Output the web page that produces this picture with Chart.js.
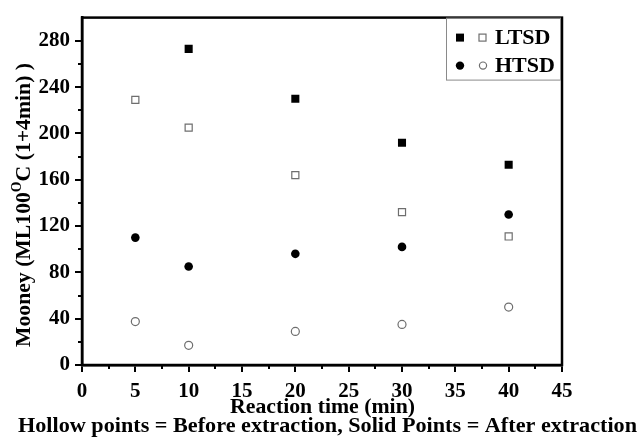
<!DOCTYPE html>
<html>
<head>
<meta charset="utf-8">
<script src="https://cdn.jsdelivr.net/npm/chart.js@4"></script>
<style>
  html, body { margin: 0; padding: 0; background: #fff; }
  #wrap { width: 641px; height: 438px; }
</style>
</head>
<body>
<div id="wrap"><canvas id="c" width="641" height="438"></canvas></div>
<script>
// ---- data ----
const reactionTimes = [5, 10, 20, 30, 40];
const ltsdAfter  = [null, 273, 230, 192, 173];   // solid squares
const ltsdBefore = [229, 205, 164, 132, 111];    // hollow squares
const htsdAfter  = [110, 85, 96, 102, 130];      // solid circles
const htsdBefore = [37.5, 17, 29, 35, 50];       // hollow circles
const xTickValues = [0, 5, 10, 15, 20, 25, 30, 35, 40, 45];
const yTickValues = [0, 40, 80, 120, 160, 200, 240, 280];
const xMinorValues = [2.5, 7.5, 12.5, 17.5, 22.5, 27.5, 32.5, 37.5, 42.5];
const yMinorValues = [20, 60, 100, 140, 180, 220, 260];
const legendLabels = ['LTSD', 'HTSD'];
const xTitle = 'Reaction time (min)';
const yTitleParts = ['Mooney (ML100', 'O', 'C (1+4min) )'];
const footnote = 'Hollow points = Before extraction, Solid Points = After extraction';

function toPoints(ys) {
  const out = [];
  reactionTimes.forEach((x, i) => { if (ys[i] !== null) out.push({ x: x, y: ys[i] }); });
  return out;
}

const SERIF = '"Liberation Serif", "Times New Roman", serif';
const HOLLOW = '#6e6e6e';

const decorPlugin = {
  id: 'decor',
  afterDraw(chart) {
    const ctx = chart.ctx;
    const a = chart.chartArea;
    const xs = chart.scales.x, ys = chart.scales.y;
    ctx.save();
    // minor ticks
    ctx.strokeStyle = '#000';
    ctx.lineWidth = 2;
    ctx.beginPath();
    xMinorValues.forEach(v => {
      const px = Math.round(xs.getPixelForValue(v));
      ctx.moveTo(px, a.bottom); ctx.lineTo(px, a.bottom + 4);
    });
    yMinorValues.forEach(v => {
      const py = Math.round(ys.getPixelForValue(v));
      ctx.moveTo(a.left, py); ctx.lineTo(a.left - 4, py);
    });
    ctx.stroke();
    // frame
    ctx.lineWidth = 2.5;
    ctx.strokeRect(a.left, a.top, a.right - a.left, a.bottom - a.top);

    // legend box
    const lx = a.right - 116, ly = a.top, lw = 114, lh = 62;
    ctx.fillStyle = '#fff';
    ctx.fillRect(lx, ly + 1, lw, lh - 1);
    ctx.strokeStyle = '#8a8a8a';
    ctx.lineWidth = 1;
    ctx.strokeRect(lx + 0.5, ly + 0.5, lw, lh);
    ctx.fillStyle = '#000';
    ctx.font = 'bold 22px ' + SERIF;
    ctx.textBaseline = 'middle';
    ctx.textAlign = 'left';
    const rows = [ly + 20, ly + 48];
    // row 1: squares
    ctx.fillRect(lx + 10, rows[0] - 4, 8, 8);
    ctx.strokeStyle = HOLLOW; ctx.lineWidth = 1.2;
    ctx.fillStyle = '#fff';
    ctx.fillRect(lx + 33, rows[0] - 3.5, 7, 7);
    ctx.strokeRect(lx + 33, rows[0] - 3.5, 7, 7);
    ctx.fillStyle = '#000';
    ctx.fillText(legendLabels[0], lx + 49, rows[0] + 1);
    // row 2: circles
    ctx.beginPath(); ctx.arc(lx + 14, rows[1], 4.2, 0, Math.PI * 2); ctx.fill();
    ctx.beginPath(); ctx.arc(lx + 37, rows[1], 3.6, 0, Math.PI * 2);
    ctx.fillStyle = '#fff'; ctx.fill(); ctx.stroke();
    ctx.fillStyle = '#000';
    ctx.fillText(legendLabels[1], lx + 49, rows[1] + 1);

    // x title
    function fitText(text, cx, cy, width, size) {
      ctx.font = 'bold ' + size + 'px ' + SERIF;
      const w = ctx.measureText(text).width;
      ctx.save();
      ctx.translate(cx, cy);
      ctx.scale(width / w, 1);
      ctx.textAlign = 'center';
      ctx.textBaseline = 'middle';
      ctx.fillText(text, 0, 0);
      ctx.restore();
    }
    fitText(xTitle, 322.5, 408, 185, 21);
    fitText(footnote, 327.5, 427, 619, 21);

    // y title (rotated) with superscript
    ctx.save();
    ctx.translate(24, 205);
    ctx.rotate(-Math.PI / 2);
    const big = 'bold 22px ' + SERIF, small = 'bold 14px ' + SERIF;
    ctx.font = big; const w1 = ctx.measureText(yTitleParts[0]).width;
    ctx.font = small; const w2 = ctx.measureText(yTitleParts[1]).width;
    ctx.font = big; const w3 = ctx.measureText(yTitleParts[2]).width;
    const total = w1 + w2 + w3;
    const sc = 284 / total;
    ctx.scale(sc, 1);
    let x0 = -total / 2;
    ctx.textAlign = 'left'; ctx.textBaseline = 'middle';
    ctx.font = big; ctx.fillText(yTitleParts[0], x0, 0);
    ctx.font = small; ctx.fillText(yTitleParts[1], x0 + w1, -7);
    ctx.font = big; ctx.fillText(yTitleParts[2], x0 + w1 + w2, 0);
    ctx.restore();

    ctx.restore();
  }
};

const tickFont = { family: SERIF, size: 21, weight: 'bold' };

new Chart(document.getElementById('c'), {
  type: 'scatter',
  data: {
    datasets: [
      { label: 'LTSD after', data: toPoints(ltsdAfter), pointStyle: 'rect', pointRadius: 5.7,
        backgroundColor: '#000', borderColor: '#000', borderWidth: 0 },
      { label: 'LTSD before', data: toPoints(ltsdBefore), pointStyle: 'rect', pointRadius: 5,
        backgroundColor: '#fff', borderColor: HOLLOW, borderWidth: 1.2 },
      { label: 'HTSD after', data: toPoints(htsdAfter), pointStyle: 'circle', pointRadius: 4.3,
        backgroundColor: '#000', borderColor: '#000', borderWidth: 0 },
      { label: 'HTSD before', data: toPoints(htsdBefore), pointStyle: 'circle', pointRadius: 4,
        backgroundColor: '#fff', borderColor: HOLLOW, borderWidth: 1.2 }
    ]
  },
  options: {
    responsive: false,
    animation: false,
    devicePixelRatio: 1,
    layout: { padding: { left: 0, top: 13, right: 79, bottom: 0 } },
    plugins: { legend: { display: false }, tooltip: { enabled: false } },
    scales: {
      x: {
        type: 'linear', min: 0, max: 45,
        afterFit: s => { s.height = 73; },
        afterBuildTicks: s => { s.ticks = xTickValues.map(v => ({ value: v })); },
        ticks: { font: tickFont, color: '#000', padding: 7, maxRotation: 0, autoSkip: false },
        grid: { drawOnChartArea: false, drawTicks: true, tickLength: 7, color: '#000', lineWidth: 2 },
        border: { display: true, color: '#000', width: 2.5 }
      },
      y: {
        type: 'linear', min: 0, max: 300,
        afterFit: s => { s.width = 82; },
        afterBuildTicks: s => { s.ticks = yTickValues.map(v => ({ value: v })); },
        ticks: { font: tickFont, color: '#000', padding: 5, autoSkip: false },
        grid: { drawOnChartArea: false, drawTicks: true, tickLength: 7, color: '#000', lineWidth: 2 },
        border: { display: true, color: '#000', width: 2.5 }
      }
    }
  },
  plugins: [decorPlugin]
});
</script>
</body>
</html>
